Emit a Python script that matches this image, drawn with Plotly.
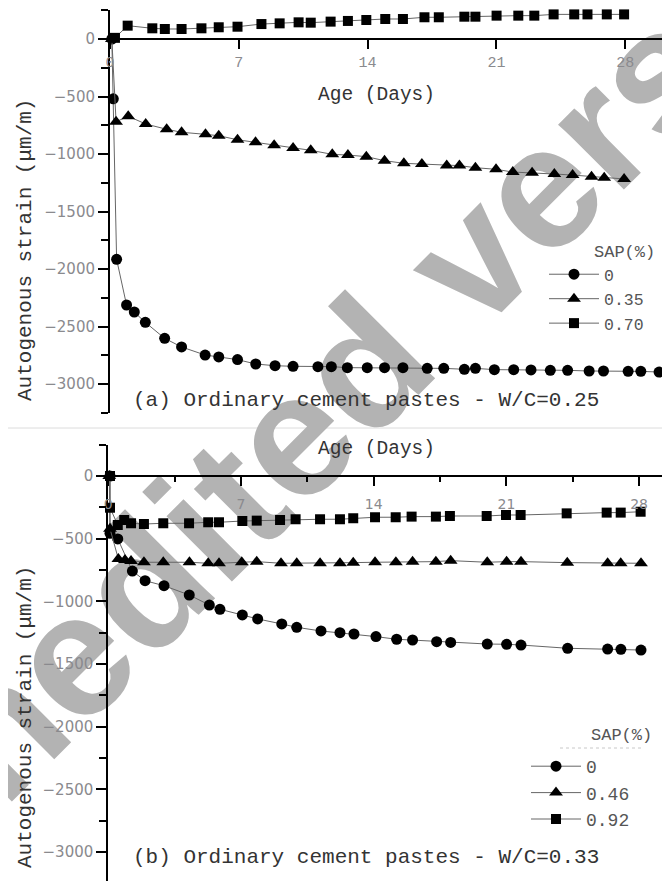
import plotly.graph_objects as go

# page body has an 8px margin: the figure is sized so that it fills the 670x881 window exactly
OFF = 8
W, H = 670 - OFF, 881 - OFF

# ---------------- data: panel (a) W/C=0.25 ----------------
a_circle_x = [0.1, 0.18, 0.36, 0.90, 1.32, 1.92, 2.97, 3.89, 5.17, 5.91, 6.93, 7.92, 8.97, 9.95, 11.30, 12.03,
              12.90, 13.98, 14.92, 15.92, 17.24, 18.14, 19.26, 19.86, 20.89, 21.94, 22.88, 23.93, 24.87, 26.04,
              26.82, 28.16, 28.85, 29.84]
a_circle_y = [0, -520, -1916, -2313, -2374, -2464, -2603, -2678, -2748, -2765, -2788, -2826, -2841, -2846, -2849,
              -2849, -2858, -2858, -2858, -2858, -2864, -2864, -2872, -2864, -2875, -2875, -2878, -2881, -2881,
              -2887, -2887, -2890, -2890, -2896]
a_tri_x = [0.1, 0.33, 0.99, 1.94, 3.08, 3.89, 5.19, 5.91, 6.93, 7.91, 8.92, 9.95, 10.91, 12.08, 12.93, 13.93,
           14.92, 15.97, 16.95, 18.30, 18.99, 19.86, 20.98, 21.89, 22.94, 24.15, 25.14, 26.17, 26.86, 27.94]
a_tri_y = [0, -719, -672, -739, -785, -811, -829, -841, -876, -898, -924, -948, -968, -1003, -1009, -1023,
           -1058, -1081, -1087, -1101, -1101, -1119, -1133, -1157, -1162, -1174, -1183, -1197, -1206, -1217]
a_sq_x = [0.27, 0.96, 2.30, 2.98, 3.89, 4.97, 5.91, 6.93, 8.23, 9.22, 10.25, 10.91, 11.99, 12.93, 13.93, 14.96,
          15.92, 17.09, 17.87, 19.26, 19.86, 21.01, 22.19, 23.06, 24.11, 25.23, 25.95, 27.00, 27.94]
a_sq_y = [10, 116, 93, 87, 87, 93, 102, 107, 130, 136, 145, 142, 151, 157, 165, 174, 174, 189, 189, 194, 194,
          203, 203, 203, 214, 214, 214, 214, 214]
a_labels = ["0", "0.35", "0.70"]

# ---------------- data: panel (b) W/C=0.33 ----------------
b_circle_x = [0.09, 0.09, 0.50, 1.27, 1.94, 2.94, 4.27, 5.33, 5.89, 7.07, 7.88, 9.15, 9.94, 11.22, 12.22, 12.96,
              14.12, 15.21, 16.05, 17.32, 18.06, 19.99, 21.01, 21.77, 24.23, 26.34, 27.04, 28.10]
b_circle_y = [0, -457, -502, -758, -835, -875, -949, -1029, -1063, -1108, -1140, -1180, -1207, -1236, -1250,
              -1260, -1281, -1302, -1308, -1321, -1327, -1340, -1342, -1348, -1374, -1380, -1382, -1388]
b_tri_x = [0.05, 0.09, 0.53, 0.88, 1.20, 1.88, 2.90, 4.28, 5.27, 5.84, 7.04, 7.83, 9.11, 9.94, 11.17, 12.22,
           12.92, 14.07, 15.17, 16.05, 17.28, 18.06, 19.99, 21.01, 21.77, 24.21, 26.34, 27.03, 28.10]
b_tri_y = [0, -420, -662, -670, -678, -688, -688, -688, -696, -696, -688, -683, -696, -696, -696, -696, -691,
           -688, -688, -683, -683, -675, -688, -683, -683, -691, -696, -696, -696]
b_sq_x = [0.09, 0.09, 0.50, 0.84, 1.20, 1.88, 2.90, 4.26, 5.27, 5.84, 7.07, 7.83, 9.06, 9.88, 11.17, 12.22,
          12.92, 14.07, 15.16, 16.00, 17.28, 18.02, 19.96, 20.98, 21.75, 24.18, 26.29, 27.03, 28.08]
b_sq_y = [0, -253, -391, -351, -377, -383, -377, -377, -369, -369, -359, -356, -351, -345, -345, -345, -337,
          -329, -329, -324, -324, -319, -319, -311, -311, -298, -292, -292, -285]
b_labels = ["0", "0.46", "0.92"]

x_ticks = [0, 7, 14, 21, 28]

MONO = "Liberation Mono"
TICKC = "#8a8a8e"
LINEC = "#666666"
LEGC = "#555555"


def px_x(p):
    return min(1.0, max(0.0, (p - OFF) / W))


def px_y(p):
    return min(1.0, max(0.0, 1 - (p - OFF) / H))


fig = go.Figure()

symbols = ["circle", "triangle-up", "square"]
sizes = [11, 12, 10]
a_data = [(a_circle_x, a_circle_y), (a_tri_x, a_tri_y), (a_sq_x, a_sq_y)]
b_data = [(b_circle_x, b_circle_y), (b_tri_x, b_tri_y), (b_sq_x, b_sq_y)]

for (xs, ys), sym, sz, lab in zip(a_data, symbols, sizes, a_labels):
    fig.add_trace(go.Scatter(x=xs, y=ys, mode="lines+markers", name=lab, xaxis="x", yaxis="y",
                             line=dict(color=LINEC, width=1),
                             marker=dict(symbol=sym, size=sz, color="black"),
                             cliponaxis=False, legend="legend"))
for (xs, ys), sym, sz, lab in zip(b_data, symbols, sizes, b_labels):
    fig.add_trace(go.Scatter(x=xs, y=ys, mode="lines+markers", name=lab, xaxis="x2", yaxis="y2",
                             line=dict(color=LINEC, width=1),
                             marker=dict(symbol=sym, size=sz, color="black"),
                             cliponaxis=False, legend="legend2"))

common_axis = dict(showline=True, linecolor="black", linewidth=2, showgrid=False, zeroline=False,
                   ticks="outside", tickcolor="black", tickwidth=2, automargin=False)

ytick_font = dict(family="DejaVu Sans", size=15, color=TICKC)

fig.update_layout(
    width=W, height=H, autosize=False,
    margin=dict(l=0, r=0, t=0, b=0, pad=0),
    paper_bgcolor="white", plot_bgcolor="white",
    xaxis=dict(**common_axis, domain=[px_x(110), px_x(662)], range=[0, 30], anchor="free",
               position=px_y(39), tickvals=x_ticks, ticklen=9,
               tickfont=dict(family=MONO, size=15, color=TICKC)),
    yaxis=dict(**common_axis, domain=[px_y(412.75), px_y(10.25)], range=[-3250, 250], anchor="x",
               tick0=0, dtick=500, ticklen=10, tickfont=ytick_font,
               minor=dict(dtick=250, tick0=0, ticks="outside", ticklen=7, tickwidth=2, tickcolor="black")),
    xaxis2=dict(**common_axis, domain=[px_x(108.3), 1], range=[0, 29.63], anchor="free",
                position=px_y(476), tickvals=x_ticks, ticklen=9, ticklabelstandoff=6,
                tickfont=dict(family="DejaVu Sans", size=14, color=TICKC),
                minor=dict(dtick=3.5, tick0=0, ticks="outside", ticklen=5, tickwidth=2, tickcolor="black")),
    yaxis2=dict(**common_axis, domain=[0, px_y(444.65)], range=[-3230, 250], anchor="x2",
                tick0=0, dtick=500, ticklen=10, tickfont=ytick_font,
                minor=dict(dtick=250, tick0=0, ticks="outside", ticklen=7, tickwidth=2, tickcolor="black")),
    legend=dict(x=px_x(544), y=px_y(257), xanchor="left", yanchor="top",
                bgcolor="rgba(0,0,0,0)", borderwidth=0, itemwidth=50, tracegroupgap=0,
                font=dict(family=MONO, size=16.5, color=LEGC)),
    legend2=dict(x=px_x(526), y=px_y(748), xanchor="left", yanchor="top",
                 bgcolor="rgba(0,0,0,0)", borderwidth=0, itemwidth=50, tracegroupgap=0,
                 font=dict(family=MONO, size=18, color=LEGC)),
)

title_font = dict(family=MONO, size=21, color="#333333")
ann = [
    dict(text="Age (Days)", x=px_x(376.5), y=px_y(95), font=dict(family=MONO, size=19.5, color="#333333")),
    dict(text="Age (Days)", x=px_x(376.5), y=px_y(449), font=dict(family=MONO, size=19.5, color="#333333")),
    dict(text="(a) Ordinary cement pastes - W/C=0.25", x=px_x(365.5), y=px_y(401), font=title_font),
    dict(text="(b) Ordinary cement pastes - W/C=0.33", x=px_x(365.5), y=px_y(857), font=title_font),
    dict(text="Autogenous strain (μm/m)", x=px_x(25), y=px_y(250), textangle=-90, font=title_font),
    dict(text="Autogenous strain (μm/m)", x=px_x(25), y=px_y(717), textangle=-90, font=title_font),
    dict(text="SAP(%)", x=px_x(624), y=px_y(252), font=dict(family=MONO, size=17, color=LEGC)),
    dict(text="SAP(%)", x=px_x(621.5), y=px_y(735), font=dict(family=MONO, size=17, color=LEGC)),
]
for a in ann:
    a.update(xref="paper", yref="paper", showarrow=False, xanchor="center", yanchor="middle")
    fig.add_annotation(**a)

# separator between the two panels
fig.add_shape(type="line", xref="paper", yref="paper", x0=px_x(7), x1=1, y0=px_y(428), y1=px_y(428),
              line=dict(color="#dcdcdc", width=1), layer="below")
# faint dotted rule under the lower legend title
fig.add_shape(type="line", xref="paper", yref="paper", x0=px_x(560), x1=px_x(642), y0=px_y(748),
              y1=px_y(748), line=dict(color="#c8c8c8", width=1, dash="dot"), layer="below")

# watermark
cx, cy = px_x(368), px_y(336)
fig.add_shape(type="rect", xref="paper", yref="paper", x0=cx - 0.001, x1=cx + 0.001, y0=cy - 0.001,
              y1=cy + 0.001, line=dict(width=0), fillcolor="rgba(0,0,0,0)", layer="below",
              label=dict(text="unedited version", textangle=-45, textposition="middle center",
                         font=dict(family="Liberation Sans", size=175, color="#b3b3b3", weight="bold")))

fig.write_html("out.html")
